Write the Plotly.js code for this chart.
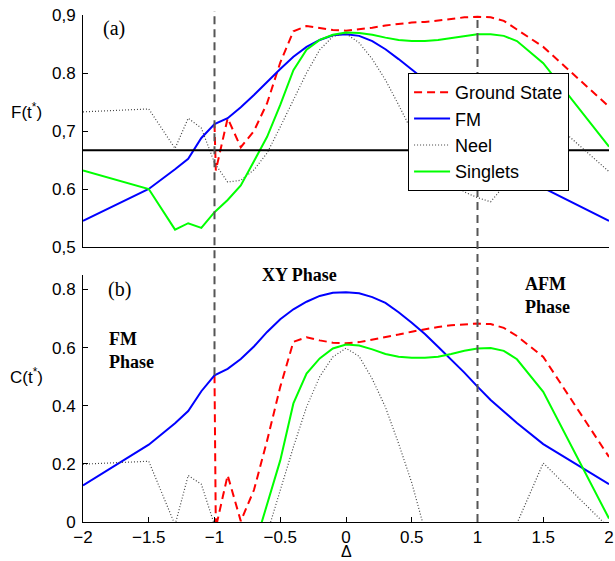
<!DOCTYPE html>
<html>
<head>
<meta charset="utf-8">
<script src="https://cdn.plot.ly/plotly-3.0.1.min.js"></script>
<style>
html,body{margin:0;padding:0;background:#fff;}
#chart{width:615px;height:561px;}
</style>
</head>
<body>
<div id="chart"></div>
<script>
// ---------------- data ----------------
const delta = [-2, -1.5, -1.3, -1.2, -1.1, -1.0, -0.9, -0.8, -0.7, -0.6, -0.5, -0.4, -0.3, -0.2, -0.1, 0,
               0.1, 0.2, 0.3, 0.4, 0.5, 0.6, 0.7, 0.8, 0.9, 1.0, 1.1, 1.2, 1.3, 1.5, 2];
const deltaGS = [-1.0, -0.99, -0.9, -0.8, -0.7, -0.6, -0.5, -0.4, -0.3, -0.2, -0.1, 0,
                 0.1, 0.2, 0.3, 0.4, 0.5, 0.6, 0.7, 0.8, 0.9, 1.0, 1.1, 1.2, 1.3, 1.5, 2];

// (a) fidelity F(t*)
const gsF = [0.712, 0.632, 0.722, 0.672, 0.700, 0.748, 0.818, 0.872, 0.881, 0.877, 0.874, 0.873,
             0.875, 0.878, 0.882, 0.885, 0.887, 0.888, 0.890, 0.893, 0.896, 0.897, 0.896, 0.890, 0.875, 0.845, 0.742];
const fmF = [0.545, 0.600, 0.634, 0.652, 0.688, 0.712, 0.722, 0.741, 0.762, 0.785, 0.807, 0.828, 0.845, 0.857, 0.865, 0.867,
             0.864, 0.855, 0.841, 0.824, 0.806, 0.788, 0.768, 0.748, 0.727, 0.706, 0.684, 0.662, 0.642, 0.602, 0.545];
const neelF = [0.733, 0.738, 0.670, 0.722, 0.705, 0.645, 0.612, 0.615, 0.633, 0.662, 0.707, 0.753, 0.800, 0.840, 0.863, 0.868,
               0.852, 0.824, 0.788, 0.745, 0.700, 0.660, 0.632, 0.612, 0.595, 0.585, 0.578, 0.605, 0.650, 0.730, 0.630];
const singF = [0.632, 0.600, 0.530, 0.541, 0.533, 0.560, 0.581, 0.606, 0.648, 0.690, 0.745, 0.805, 0.840, 0.857, 0.866, 0.870,
               0.869, 0.866, 0.861, 0.857, 0.855, 0.855, 0.857, 0.860, 0.864, 0.867, 0.867, 0.864, 0.855, 0.817, 0.673];

// (b) concurrence C(t*)
const gsC = [0.505, -0.02, 0.161, 0.003, 0.110, 0.280, 0.465, 0.620, 0.636, 0.625, 0.617, 0.615,
             0.619, 0.627, 0.636, 0.645, 0.655, 0.664, 0.671, 0.677, 0.681, 0.683, 0.681, 0.668, 0.640, 0.568, 0.224];
const fmC = [0.126, 0.266, 0.340, 0.382, 0.450, 0.505, 0.527, 0.561, 0.604, 0.654, 0.698, 0.732, 0.758, 0.778, 0.789, 0.791,
             0.787, 0.774, 0.754, 0.722, 0.686, 0.647, 0.603, 0.560, 0.514, 0.466, 0.420, 0.380, 0.341, 0.268, 0.130];
const neelC = [0.199, 0.209, -0.01, 0.160, 0.130, -0.01, null, null, null, -0.04, 0.110, 0.258, 0.396, 0.500, 0.568, 0.598,
               0.570, 0.492, 0.395, 0.270, 0.135, -0.03, null, null, null, null, null, null, -0.005, 0.203, -0.02];
const singC = [null, null, null, null, null, null, null, null, -0.09, 0.063, 0.212, 0.408, 0.511, 0.563, 0.597, 0.611,
               0.607, 0.594, 0.578, 0.569, 0.565, 0.565, 0.569, 0.578, 0.589, 0.597, 0.599, 0.589, 0.560, 0.448, 0.012];

const classicalLimit = 2 / 3;
const phaseBoundaries = [-1, 1];
const seriesNames = ['Ground State', 'FM', 'Neel', 'Singlets'];

const xTickVals = [-2, -1.5, -1, -0.5, 0, 0.5, 1, 1.5, 2];
const xTickText = ['\u22122', '\u22121.5', '\u22121', '\u22120.5', '0', '0.5', '1', '1.5', '2'];
const fTickVals = [0.5, 0.6, 0.7, 0.8, 0.9];
const fTickText = ['0,5', '0.6', '0,7', '0.8', '0,9'];
const cTickVals = [0, 0.2, 0.4, 0.6, 0.8];
const cTickText = ['0', '0.2', '0.4', '0.6', '0.8'];

// ---------------- styling ----------------
const lineStyles = [
  {color: '#ff0000', width: 2, dash: '8px,5px'},
  {color: '#0000ff', width: 2, dash: 'solid'},
  {color: '#444444', width: 1.2, dash: '1px,2px'},
  {color: '#00ff00', width: 2, dash: 'solid'}
];
const sans = 'Liberation Sans, Arial, Helvetica, sans-serif';
const serif = 'Liberation Serif, Times New Roman, serif';

const topDomain = [0.5424, 1];
const botDomain = [0, 0.4872];
const fRange = [0.5, 0.9];
const cRange = [0, 0.85];

const topX = [deltaGS, delta, delta, delta];
const topY = [gsF, fmF, neelF, singF];
const botY = [gsC, fmC, neelC, singC];

const traces = [];
for (let i = 0; i < 4; i++) {
  traces.push({x: topX[i], y: topY[i], xaxis: 'x', yaxis: 'y', type: 'scatter', mode: 'lines',
    name: seriesNames[i], legendgroup: 'g' + i, line: lineStyles[i], connectgaps: false, hoverinfo: 'skip'});
}
for (let i = 0; i < 4; i++) {
  traces.push({x: topX[i], y: botY[i], xaxis: 'x2', yaxis: 'y2', type: 'scatter', mode: 'lines',
    name: seriesNames[i], legendgroup: 'g' + i, showlegend: false, line: lineStyles[i], connectgaps: false, hoverinfo: 'skip'});
}

function cPaper(v) { return botDomain[0] + (v - cRange[0]) / (cRange[1] - cRange[0]) * (botDomain[1] - botDomain[0]); }
const fmAtMinus1 = fmC[delta.indexOf(phaseBoundaries[0])];

const shapes = [
  {type: 'line', xref: 'paper', yref: 'y', x0: 0, x1: 1, y0: classicalLimit, y1: classicalLimit,
   line: {color: '#000', width: 2}},
  {type: 'line', xref: 'x', yref: 'paper', x0: phaseBoundaries[0], x1: phaseBoundaries[0],
   y0: cPaper(fmAtMinus1), y1: 1.008, line: {color: '#555', width: 2, dash: '8px,5px'}},
  {type: 'line', xref: 'x', yref: 'paper', x0: phaseBoundaries[1], x1: phaseBoundaries[1],
   y0: 0, y1: 1.0, line: {color: '#555', width: 2, dash: '8px,5px'}}
];

function ann(x, y, text, font, extra) {
  return Object.assign({xref: 'paper', yref: 'paper', x: x, y: y, text: text, showarrow: false,
    xanchor: 'center', yanchor: 'middle', font: font}, extra || {});
}
const sansFont = {family: sans, size: 17, color: '#000'};
const serifFont = {family: serif, size: 20, color: '#000'};
const boldFont = {family: serif, size: 18, color: '#000'};

const annotations = [
  ann(-0.1065, 0.8107, 'F(t<sup>*</sup>)', sansFont),
  ann(-0.1065, 0.288, 'C(t<sup>*</sup>)', sansFont),
  ann(0, 0, '\u0394', {family: sans, size: 16, color: '#000'}, {xref: 'x2', yanchor: 'bottom', yshift: -39, borderpad: 0}),
  ann(0.058, 0.974, '(a)', serifFont),
  ann(0.070, 0.4576, '(b)', serifFont),
  ann(0.4125, 0.488, '<b>XY Phase</b>', boldFont),
  ann(0.0456, 0.3373, '<b>FM<br>Phase</b>', boldFont, {xanchor: 'left', align: 'left'}),
  ann(0.8365, 0.4477, '<b>AFM<br>Phase</b>', boldFont, {xanchor: 'left', align: 'left'})
];

const axisCommon = {showgrid: false, zeroline: false, showline: true, linecolor: '#000', linewidth: 1,
  ticks: 'inside', ticklen: 5, tickcolor: '#000', tickwidth: 1,
  tickfont: {family: sans, size: 17, color: '#000'}, fixedrange: true};

const layout = {
  width: 615, height: 561,
  margin: {l: 83, r: 6, t: 15, b: 39, pad: 0},
  paper_bgcolor: '#fff', plot_bgcolor: '#fff',
  showlegend: true,
  legend: {x: 0.618, y: 0.8856, xanchor: 'left', yanchor: 'top', bgcolor: '#fff', bordercolor: '#000', borderwidth: 1,
    font: {family: sans, size: 18, color: '#000'}, tracegroupgap: 8, traceorder: 'normal', itemwidth: 36},
  xaxis: Object.assign({}, axisCommon, {anchor: 'y', domain: [0, 1], range: [-2, 2], showticklabels: false, ticks: ''}),
  yaxis: Object.assign({}, axisCommon, {anchor: 'x', domain: topDomain, range: fRange, tickvals: fTickVals, ticktext: fTickText, ticklabelstandoff: 3}),
  xaxis2: Object.assign({}, axisCommon, {anchor: 'y2', domain: [0, 1], range: [-2, 2], tickvals: xTickVals, ticktext: xTickText}),
  yaxis2: Object.assign({}, axisCommon, {anchor: 'x2', domain: botDomain, range: cRange, tickvals: cTickVals, ticktext: cTickText, ticklabelstandoff: 3}),
  shapes: shapes,
  annotations: annotations
};

Plotly.newPlot('chart', traces, layout, {staticPlot: true, displayModeBar: false});
</script>
</body>
</html>
